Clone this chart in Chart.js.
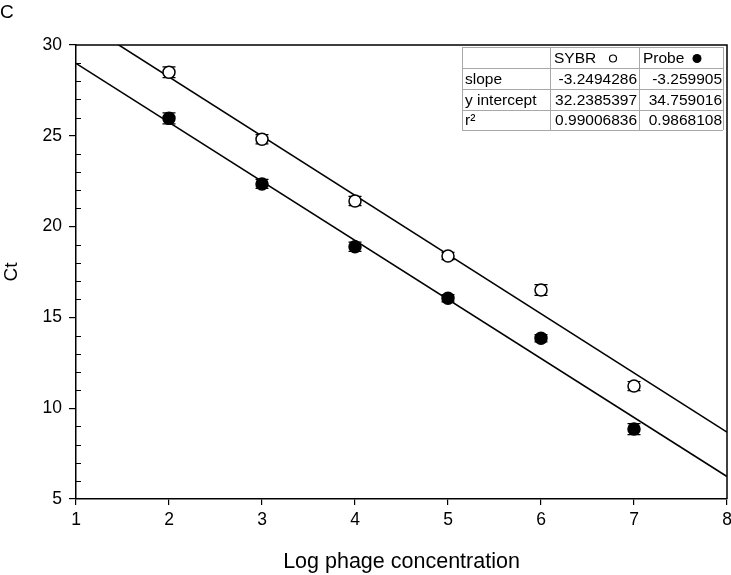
<!DOCTYPE html>
<html>
<head>
<meta charset="utf-8">
<script src="https://cdn.jsdelivr.net/npm/chart.js@4.4.0/dist/chart.umd.min.js"></script>
<style>
  body { margin: 0; background: #fff; }
  #wrap { width: 731px; height: 575px; position: relative; }
</style>
</head>
<body>
<div id="wrap"><canvas id="stdCurve"></canvas></div>
<script>
// values
const logConc = [2, 3, 4, 5, 6, 7];
const sybrCt = [28.50, 24.81, 21.41, 18.38, 16.51, 11.22];
const sybrErr = [0.3, 0.25, 0.25, 0.2, 0.3, 0.25];
const probeCt = [25.96, 22.35, 18.89, 16.05, 13.85, 8.85];
const probeErr = [0.3, 0.25, 0.25, 0.2, 0.2, 0.3];

// regression lines (ends at x = 1 and x = 8)
const fitX = [1, 8];
const fitUpper = [31.5, 8.68];
const fitLower = [28.99, 6.24];

const tableHead = ['', 'SYBR', 'Probe'];
const tableRows = [
    ['slope', '-3.2494286', '-3.259905'],
    ['y intercept', '32.2385397', '34.759016'],
    ['r\u00b2', '0.99006836', '0.9868108']
];

const FONT = '"Liberation Sans", Arial, sans-serif';
const toPoints = (xs, ys) => xs.map((x, i) => ({ x: x, y: ys[i] }));

// frame, minor ticks and error bars
const framePlugin = {
    id: 'frame',
    beforeDatasetsDraw(chart) {
        const { ctx, chartArea: a, scales: { x, y } } = chart;
        ctx.save();
        ctx.strokeStyle = '#000';
        ctx.lineWidth = 1.5;
        ctx.beginPath();
        ctx.moveTo(a.left, a.top);
        ctx.lineTo(a.right, a.top);
        ctx.lineTo(a.right, a.bottom);
        ctx.stroke();

        // minor y ticks, pointing inward
        ctx.lineWidth = 1;
        for (let v = y.min + 1; v < y.max; v++) {
            if (v % 5 === 0) continue;
            const py = Math.round(y.getPixelForValue(v)) + 0.5;
            ctx.beginPath();
            ctx.moveTo(a.left, py);
            ctx.lineTo(a.left + 5, py);
            ctx.stroke();
        }

        // error bars
        const bars = [[sybrCt, sybrErr], [probeCt, probeErr]];
        ctx.lineWidth = 1.2;
        bars.forEach(([vals, errs]) => {
            vals.forEach((v, i) => {
                const px = x.getPixelForValue(logConc[i]);
                const top = y.getPixelForValue(v + errs[i]);
                const bot = y.getPixelForValue(v - errs[i]);
                ctx.beginPath();
                ctx.moveTo(px, top); ctx.lineTo(px, bot);
                ctx.moveTo(px - 6.5, top); ctx.lineTo(px + 6.5, top);
                ctx.moveTo(px - 6.5, bot); ctx.lineTo(px + 6.5, bot);
                ctx.stroke();
            });
        });
        ctx.restore();
    },
    afterDraw(chart) {
        const { ctx } = chart;
        ctx.save();
        // panel letter
        ctx.fillStyle = '#000';
        ctx.font = '19px ' + FONT;
        ctx.textBaseline = 'top';
        ctx.textAlign = 'left';
        ctx.fillText('C', 0, 3);

        // stats table
        const colX = [462, 550, 639, 723];
        const rowY = [47, 68, 89, 110, 130];
        ctx.fillStyle = '#fff';
        ctx.fillRect(colX[0], rowY[0], colX[3] - colX[0], rowY[4] - rowY[0]);
        ctx.strokeStyle = '#a8a8a8';
        ctx.lineWidth = 1;
        ctx.beginPath();
        colX.forEach(cx => { ctx.moveTo(cx + 0.5, rowY[0]); ctx.lineTo(cx + 0.5, rowY[4]); });
        rowY.forEach(ry => { ctx.moveTo(colX[0], ry + 0.5); ctx.lineTo(colX[3], ry + 0.5); });
        ctx.stroke();

        ctx.fillStyle = '#000';
        ctx.font = '15.5px ' + FONT;
        ctx.textBaseline = 'middle';
        tableHead.forEach((t, c) => {
            if (!t) return;
            ctx.textAlign = 'left';
            ctx.fillText(t, colX[c] + 4, (rowY[0] + rowY[1]) / 2 + 1);
        });
        // series symbols in the header
        const hy = (rowY[0] + rowY[1]) / 2 + 1;
        ctx.lineWidth = 1.2;
        ctx.strokeStyle = '#000';
        ctx.beginPath();
        ctx.arc(613, hy, 3.5, 0, Math.PI * 2);
        ctx.stroke();
        ctx.beginPath();
        ctx.arc(697, hy, 4.5, 0, Math.PI * 2);
        ctx.fill();

        tableRows.forEach((row, r) => {
            const cy = (rowY[r + 1] + rowY[r + 2]) / 2 + 1;
            ctx.textAlign = 'left';
            ctx.fillText(row[0], colX[0] + 3, cy);
            ctx.textAlign = 'right';
            ctx.fillText(row[1], colX[2] - 2, cy);
            ctx.fillText(row[2], colX[3] - 1, cy);
        });
        ctx.restore();
    }
};

new Chart(document.getElementById('stdCurve'), {
    type: 'scatter',
    data: {
        datasets: [
            {
                label: 'SYBR',
                data: toPoints(logConc, sybrCt),
                pointRadius: 6,
                pointBackgroundColor: '#fff',
                pointBorderColor: '#000',
                pointBorderWidth: 1.5
            },
            {
                label: 'Probe',
                data: toPoints(logConc, probeCt),
                pointRadius: 6,
                pointBackgroundColor: '#000',
                pointBorderColor: '#000',
                pointBorderWidth: 1.5
            },
            {
                label: 'fit upper',
                data: toPoints(fitX, fitUpper),
                showLine: true,
                pointRadius: 0,
                borderColor: '#000',
                borderWidth: 1.6
            },
            {
                label: 'fit lower',
                data: toPoints(fitX, fitLower),
                showLine: true,
                pointRadius: 0,
                borderColor: '#000',
                borderWidth: 1.6
            }
        ]
    },
    options: {
        responsive: true,
        maintainAspectRatio: false,
        animation: false,
        layout: { autoPadding: false, padding: { top: 45, right: 4, left: 0, bottom: 0 } },
        plugins: {
            legend: { display: false },
            tooltip: { enabled: false }
        },
        scales: {
            x: {
                type: 'linear',
                min: 1,
                max: 8,
                afterFit: s => { s.height = 76; s.paddingLeft = 0; s.paddingRight = 0; },
                ticks: { stepSize: 1, color: '#000', font: { family: FONT, size: 17.5 }, padding: 5 },
                grid: { drawOnChartArea: false, tickLength: 6, color: '#000', lineWidth: 1.2 },
                border: { color: '#000', width: 1.5 },
                title: { display: true, text: 'Log phage concentration', color: '#000', font: { family: FONT, size: 21.5 }, padding: 0 }
            },
            y: {
                min: 5,
                max: 30,
                afterFit: s => { s.width = 76; s.paddingTop = 0; s.paddingBottom = 0; },
                ticks: { stepSize: 5, color: '#000', font: { family: FONT, size: 17.5 }, padding: 7 },
                grid: { drawOnChartArea: false, tickLength: 7, color: '#000', lineWidth: 1.2 },
                border: { color: '#000', width: 1.5 },
                title: { display: true, text: 'Ct', color: '#000', font: { family: FONT, size: 19 }, padding: 0 }
            }
        }
    },
    plugins: [framePlugin]
});
</script>
</body>
</html>
